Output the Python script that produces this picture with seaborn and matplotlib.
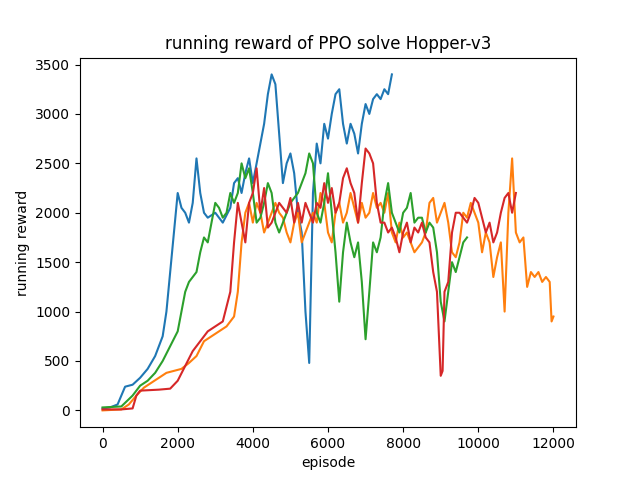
import matplotlib
matplotlib.use("Agg")
import matplotlib.pyplot as plt
import seaborn as sns
import pandas as pd

blue_x = [0,200,400,500,600,800,1000,1200,1400,1600,1700,1800,1900,2000,2100,2200,2300,2400,2500,2600,2700,2800,3000,3200,3400,3500,3600,3700,3800,3900,4000,4100,4200,4300,4400,4500,4600,4700,4800,4900,5000,5100,5200,5300,5400,5500,5600,5700,5800,5900,6000,6100,6200,6300,6400,6500,6600,6700,6800,6900,7000,7100,7200,7300,7400,7500,7600,7700]
blue_y = [20,30,60,150,240,260,330,420,550,750,1000,1400,1800,2200,2050,2000,1900,2100,2550,2200,2000,1950,2000,1900,2050,2300,2350,2200,2400,2550,2300,2500,2700,2900,3200,3400,3300,2800,2300,2500,2600,2400,2000,1800,1000,480,2200,2700,2500,2900,2750,3000,3200,3250,2900,2700,2900,2800,2600,2900,3100,3000,3150,3200,3150,3250,3200,3400]

orange_x = [0,500,700,900,1100,1300,1500,1700,1900,2100,2300,2500,2700,2900,3100,3300,3500,3600,3700,3800,3900,4000,4100,4200,4300,4400,4500,4600,4700,4800,4900,5000,5100,5200,5300,5400,5500,5600,5700,5800,5900,6000,6100,6200,6300,6400,6500,6600,6700,6800,6900,7000,7100,7200,7300,7400,7500,7600,7700,7800,7900,8000,8100,8200,8300,8400,8500,8600,8700,8800,8900,9000,9100,9200,9300,9400,9500,9600,9700,9800,9900,10000,10100,10200,10300,10400,10500,10600,10700,10800,10900,11000,11100,11200,11300,11400,11500,11600,11700,11800,11900,11950,12000]
orange_y = [0,10,60,150,230,280,330,380,400,420,480,550,700,750,800,850,950,1200,1700,2000,2100,1900,2100,2000,1800,1900,2000,2100,2000,1950,1800,1700,1900,2000,1700,1800,1900,2000,1900,2200,2100,1800,1700,2000,2100,1900,2000,2200,2050,1900,2100,1950,2000,2200,2050,2100,2000,2200,1800,1700,1900,1750,1800,1700,1600,1650,1700,1800,2100,2150,1900,2000,2100,1900,1600,1550,1700,2000,1950,2100,2000,1900,1600,1800,1700,1350,1550,1700,1000,2000,2550,1800,1700,1750,1250,1400,1350,1400,1300,1350,1300,900,950]

green_x = [0,500,800,1000,1200,1400,1600,1800,2000,2100,2200,2300,2400,2500,2600,2700,2800,2900,3000,3100,3200,3300,3400,3500,3600,3700,3800,3900,4000,4100,4200,4300,4400,4500,4600,4700,4800,4900,5000,5200,5400,5500,5600,5700,5800,5900,6000,6100,6200,6300,6400,6500,6600,6700,6800,6900,7000,7100,7200,7300,7400,7500,7600,7700,7800,7900,8000,8100,8200,8300,8400,8500,8600,8700,8800,8900,9000,9100,9200,9300,9400,9500,9600,9700]
green_y = [30,40,150,250,300,380,500,650,800,1000,1200,1300,1350,1400,1600,1750,1700,1900,2100,2050,1950,2000,2200,2100,2200,2500,2350,2450,2200,1900,1950,2100,2300,2200,1900,1800,1900,2000,2100,2200,2400,2600,2500,2000,1900,2100,2400,2000,1600,1100,1600,1900,1700,1550,1700,1300,720,1200,1700,1600,1750,2100,2300,2000,1900,1800,2000,2050,2200,1900,1950,1950,1800,1900,1850,1600,1100,900,1200,1500,1400,1550,1700,1750]

red_x = [0,500,800,900,1000,1500,1800,2000,2200,2400,2600,2800,3000,3200,3400,3500,3600,3700,3800,3900,4000,4100,4200,4300,4400,4500,4600,4700,4800,4900,5000,5100,5200,5300,5400,5500,5600,5700,5800,5900,6000,6100,6200,6300,6400,6500,6600,6700,6800,6900,7000,7100,7200,7300,7400,7500,7600,7700,7800,7900,8000,8100,8200,8300,8400,8500,8600,8700,8800,8900,9000,9050,9100,9200,9300,9400,9500,9600,9700,9800,9900,10000,10100,10200,10300,10400,10500,10600,10700,10800,10900,11000]
red_y = [10,10,20,150,200,210,220,300,450,600,700,800,850,900,1200,1700,2100,1900,1700,2100,2200,2450,2000,2250,1850,1900,2000,2100,2050,2000,2150,1900,2100,1900,2100,2000,1900,2100,2050,2300,2100,2250,2000,2100,2350,2450,2300,2200,1900,2300,2650,2600,2500,2100,1900,1900,1800,1850,1750,1600,1800,1900,1700,1850,1800,1900,1750,1700,1400,1200,350,400,1200,1300,1800,2000,2000,1950,1900,2000,2150,2100,1950,1800,1900,1700,1800,2000,2150,2200,2000,2200]

series = [(blue_x, blue_y, "#1f77b4"), (orange_x, orange_y, "#ff7f0e"),
          (green_x, green_y, "#2ca02c"), (red_x, red_y, "#d62728")]

fig, ax = plt.subplots(figsize=(6.4, 4.8), dpi=100)
for xs, ys, c in series:
    df = pd.DataFrame({"episode": xs, "reward": ys})
    sns.lineplot(data=df, x="episode", y="reward", color=c, ax=ax, linewidth=1.5)
ax.set_xlabel("episode")
ax.set_ylabel("running reward")
ax.set_title("running reward of PPO solve Hopper-v3")
ax.set_yticks([0,500,1000,1500,2000,2500,3000,3500])
fig.savefig("out.png")
